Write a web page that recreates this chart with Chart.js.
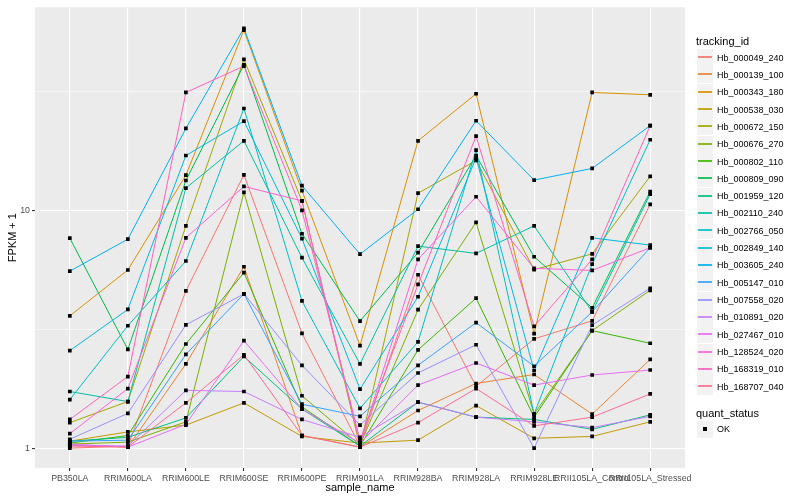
<!DOCTYPE html>
<html>
<head>
<meta charset="utf-8">
<script src="https://cdn.jsdelivr.net/npm/chart.js@4.4.0/dist/chart.umd.min.js"></script>
<style>
  body { margin: 0; background: #fff; }
  #wrap { position: relative; width: 800px; height: 500px; font-family: "Liberation Sans", Arial, sans-serif; }
  #fpkmChart { position: absolute; left: 0; top: 0; }
  .ltitle { position: absolute; left: 696px; font-size: 11px; line-height: 14px; color: #000; }
  .key { position: absolute; left: 697px; width: 16px; height: 17px; background: #f2f2f2; }
  .key span { position: absolute; left: 1px; width: 14px; top: 7px; height: 2px; opacity: 0.85; }
  .key b { position: absolute; left: 6px; top: 6px; width: 4px; height: 4px; background: #000; }
  .ltext { position: absolute; left: 717px; font-size: 9px; line-height: 12px; color: #000; white-space: nowrap; }
</style>
</head>
<body>
<div id="wrap">
  <canvas id="fpkmChart" width="800" height="500"></canvas>
  <div id="legend"></div>
</div>
<script>
const categories = ['PB350LA', 'RRIM600LA', 'RRIM600LE', 'RRIM600SE', 'RRIM600PE', 'RRIM901LA',
  'RRIM928BA', 'RRIM928LA', 'RRIM928LE', 'RRII105LA_Control', 'RRII105LA_Stressed'];

const trackingIds = ['Hb_000049_240', 'Hb_000139_100', 'Hb_000343_180', 'Hb_000538_030', 'Hb_000672_150',
  'Hb_000676_270', 'Hb_000802_110', 'Hb_000809_090', 'Hb_001959_120', 'Hb_002110_240', 'Hb_002766_050',
  'Hb_002849_140', 'Hb_003605_240', 'Hb_005147_010', 'Hb_007558_020', 'Hb_010891_020', 'Hb_027467_010',
  'Hb_128524_020', 'Hb_168319_010', 'Hb_168707_040'];

// FPKM + 1, one value per sample
const hb_000049_240 = [1.00, 1.02, 4.58, 14.1, 3.04, 1.02, 5.36, 1.82, 2.88, 3.43, 10.6];
const hb_000139_100 = [1.03, 1.01, 2.26, 5.79, 1.13, 1.01, 1.44, 1.87, 2.04, 1.39, 2.36];
const hb_000343_180 = [3.60, 5.61, 14.05, 57.2, 12.1, 2.70, 19.6, 30.9, 3.03, 31.3, 30.6];
const hb_000538_030 = [1.07, 1.17, 1.25, 1.55, 1.12, 1.05, 1.08, 1.51, 1.10, 1.12, 1.29];
const hb_000672_150 = [1.28, 1.57, 8.6, 43.1, 10.96, 1.01, 11.8, 16.2, 5.63, 6.56, 13.9];
const hb_000676_270 = [1.04, 1.06, 1.29, 11.9, 1.66, 1.03, 3.82, 8.9, 1.39, 3.12, 4.61];
const hb_000802_110 = [1.05, 1.13, 2.74, 5.47, 1.49, 1.02, 2.59, 4.27, 1.35, 3.12, 2.76];
const hb_000809_090 = [7.64, 2.60, 13.35, 40.9, 7.97, 3.42, 6.64, 17.0, 6.38, 3.89, 12.0];
const hb_001959_120 = [1.07, 1.11, 1.34, 2.43, 1.46, 1.02, 1.56, 1.35, 1.32, 1.20, 1.38];
const hb_002110_240 = [1.73, 1.57, 12.4, 19.6, 6.32, 2.26, 7.07, 6.59, 8.6, 3.74, 11.7];
const hb_002766_050 = [1.60, 3.27, 6.12, 26.8, 4.16, 1.47, 2.80, 17.9, 1.39, 5.94, 19.8];
const hb_002849_140 = [2.57, 3.83, 17.0, 23.7, 7.60, 1.77, 4.33, 16.6, 2.12, 7.66, 7.14];
const hb_003605_240 = [5.55, 7.56, 22.1, 58.3, 12.7, 6.54, 10.1, 23.8, 13.4, 15.0, 22.7];
const hb_005147_010 = [1.07, 1.08, 2.48, 4.45, 1.53, 1.36, 2.23, 3.37, 2.21, 3.74, 6.96];
const hb_007558_020 = [1.09, 1.40, 3.30, 4.45, 2.23, 1.25, 2.07, 2.72, 1.00, 3.29, 4.70];
const hb_010891_020 = [1.03, 1.02, 1.75, 1.73, 1.32, 1.11, 1.56, 1.35, 1.29, 1.22, 1.36];
const hb_027467_010 = [1.04, 1.01, 1.26, 2.83, 1.46, 1.05, 1.84, 2.28, 1.84, 2.03, 2.13];
const hb_128524_020 = [1.15, 1.78, 7.66, 12.6, 10.96, 1.04, 6.22, 11.4, 5.70, 5.59, 6.96];
const hb_168319_010 = [1.32, 2.00, 31.3, 40.4, 10.0, 1.08, 4.88, 20.5, 3.25, 6.22, 22.7];
const hb_168707_040 = [1.02, 1.01, 1.55, 2.47, 1.13, 1.01, 1.28, 1.78, 1.24, 1.35, 1.69];

const yLabelTicks = [1, 10];
const yMinorTicks = [3.1623, 31.623];

const seriesValues = [hb_000049_240, hb_000139_100, hb_000343_180, hb_000538_030, hb_000672_150,
  hb_000676_270, hb_000802_110, hb_000809_090, hb_001959_120, hb_002110_240, hb_002766_050,
  hb_002849_140, hb_003605_240, hb_005147_010, hb_007558_020, hb_010891_020, hb_027467_010,
  hb_128524_020, hb_168319_010, hb_168707_040];

// ggplot hue palette, 20 levels
const palette = ['#F8766D', '#EA8331', '#D89000', '#C09B00', '#A3A500', '#7CAE00', '#39B600', '#00BB4E',
  '#00BF7D', '#00C1A3', '#00BFC4', '#00BAE0', '#00B0F6', '#35A2FF', '#9590FF', '#C77CFF', '#E76BF3',
  '#FA62DB', '#FF62BC', '#FF6C91'];

Chart.defaults.font.family = '"Liberation Sans", Arial, sans-serif';

const lineSets = seriesValues.map((vals, i) => ({
  label: trackingIds[i],
  data: vals.map((v, j) => ({ x: j, y: v })),
  borderColor: palette[i],
  borderWidth: 1,
  pointRadius: 0,
  tension: 0,
  order: 100 - i
}));

const pointSet = {
  label: 'OK',
  data: seriesValues.flatMap(vals => vals.map((v, j) => ({ x: j, y: v }))),
  showLine: false,
  pointStyle: 'rect',
  pointRadius: 2.6,
  backgroundColor: '#000',
  borderWidth: 0,
  order: -1
};

const panelBg = {
  id: 'panelBg',
  beforeDraw(chart) {
    const { ctx, chartArea: a } = chart;
    ctx.save();
    ctx.fillStyle = '#EBEBEB';
    ctx.fillRect(a.left, a.top, a.right - a.left, a.bottom - a.top);
    ctx.restore();
  }
};

const ctx = document.getElementById('fpkmChart').getContext('2d');
new Chart(ctx, {
  type: 'line',
  data: { datasets: [...lineSets, pointSet] },
  plugins: [panelBg],
  options: {
    responsive: false,
    animation: false,
    layout: { padding: { left: 0, top: 5, right: 115, bottom: 0 } },
    plugins: { legend: { display: false }, tooltip: { enabled: false } },
    scales: {
      x: {
        type: 'linear',
        min: -0.6,
        max: 10.6,
        afterBuildTicks: s => { s.ticks = categories.map((c, i) => ({ value: i })); },
        afterFit: s => { s.height = 32; },
        ticks: {
          autoSkip: false, maxRotation: 0, padding: 2, color: '#4D4D4D', font: { size: 8.8 },
          callback: v => categories[v]
        },
        grid: { color: '#fff', lineWidth: 1.1, tickLength: 3, tickColor: '#333' },
        border: { display: false },
        title: { display: true, text: 'sample_name', color: '#000', font: { size: 11 }, padding: { top: 0, bottom: 5 } }
      },
      y: {
        type: 'logarithmic',
        min: 0.825,
        max: 71.4,
        afterBuildTicks: s => {
          s.ticks = [...yLabelTicks, ...yMinorTicks].sort((a, b) => a - b).map(v => ({ value: v }));
        },
        afterFit: s => { s.width = 35; },
        ticks: {
          padding: 2, color: '#4D4D4D', font: { size: 8.8 },
          callback: v => yLabelTicks.includes(v) ? String(v) : ''
        },
        grid: {
          color: '#fff',
          lineWidth: c => yLabelTicks.includes(c.tick.value) ? 1.1 : 0.55,
          tickLength: 3,
          tickColor: c => yLabelTicks.includes(c.tick.value) ? '#333' : 'rgba(0,0,0,0)'
        },
        border: { display: false },
        title: { display: true, text: 'FPKM + 1', color: '#000', font: { size: 11 }, padding: { top: 6, bottom: 0 } }
      }
    }
  }
});

// legend (ggplot style)
const legend = document.getElementById('legend');
function addEl(cls, top, html) {
  const d = document.createElement('div');
  d.className = cls;
  d.style.top = Math.round(top) + 'px';
  d.innerHTML = html;
  legend.appendChild(d);
}
addEl('ltitle', 34, 'tracking_id');
trackingIds.forEach((id, i) => {
  const cy = 57.6 + 17.32 * i;
  addEl('key', cy - 8.5, '<span style="background:' + palette[i] + '"></span>');
  addEl('ltext', cy - 6, id);
});
addEl('ltitle', 405.5, 'quant_status');
addEl('key', 429 - 8.5, '<b></b>');
addEl('ltext', 429 - 6, 'OK');
</script>
</body>
</html>
